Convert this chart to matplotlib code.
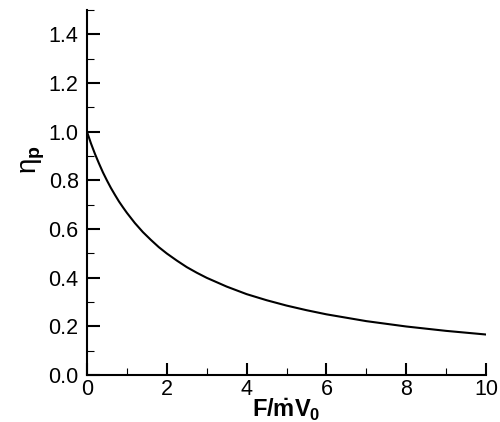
import matplotlib
matplotlib.use("Agg")
import matplotlib.pyplot as plt
from matplotlib.ticker import MultipleLocator

# Values
thrust_ratio = [0, 0.1, 0.2, 0.3, 0.4, 0.5, 0.6, 0.7, 0.8, 0.9, 1.0, 1.2, 1.4, 1.6, 1.8,
                2.0, 2.25, 2.5, 2.75, 3.0, 3.5, 4.0, 4.5, 5.0, 5.5, 6.0, 7.0, 8.0, 9.0, 10.0]
eta_p = [1.0, 0.952, 0.909, 0.870, 0.833, 0.8, 0.769, 0.741, 0.714, 0.690, 0.667,
         0.625, 0.588, 0.556, 0.526, 0.5, 0.471, 0.444, 0.421, 0.4, 0.364, 0.333,
         0.308, 0.286, 0.267, 0.25, 0.222, 0.2, 0.182, 0.167]

plt.rcParams['font.family'] = ['Liberation Sans', 'DejaVu Sans']
plt.rcParams['mathtext.fontset'] = 'custom'
plt.rcParams['mathtext.rm'] = 'Liberation Sans'
plt.rcParams['mathtext.it'] = 'Liberation Sans:italic'
plt.rcParams['mathtext.bf'] = 'Liberation Sans:bold'

fig = plt.figure(figsize=(5, 4.22), dpi=100)
ax = fig.add_axes([0.174, 0.111, 0.798, 0.865])
ax.plot(thrust_ratio, eta_p, color='black', lw=1.5)
ax.set_xlim(0, 10)
ax.set_ylim(0, 1.5)
ax.xaxis.set_minor_locator(MultipleLocator(1))
ax.yaxis.set_minor_locator(MultipleLocator(0.1))
ax.set_yticks([0, 0.2, 0.4, 0.6, 0.8, 1.0, 1.2, 1.4])
ax.set_yticklabels(['0.0', '0.2', '0.4', '0.6', '0.8', '1.0', '1.2', '1.4'])
ax.set_xticks([0, 2, 4, 6, 8, 10])
ax.set_xticklabels(['0', '2', '4', '6', '8', '10'])
ax.spines['top'].set_visible(False)
ax.spines['right'].set_visible(False)
for s in ['left', 'bottom']:
    ax.spines[s].set_linewidth(1.5)
ax.tick_params(which='major', direction='in', length=9, width=1.5, labelsize=15.5)
ax.tick_params(which='minor', direction='in', length=5, width=0.8)
ax.tick_params(axis='y', pad=6)
ax.tick_params(axis='x', pad=3)
ax.set_xlabel(r'$\mathbf{F/\dot{m}V_0}$', fontsize=17)
ax.set_ylabel('η$_{\\mathbf{p}}$', fontsize=20)
ax.yaxis.set_label_coords(-0.10, 0.59)
ax.xaxis.set_label_coords(0.5, -0.06)
fig.savefig('out.png', dpi=100)
